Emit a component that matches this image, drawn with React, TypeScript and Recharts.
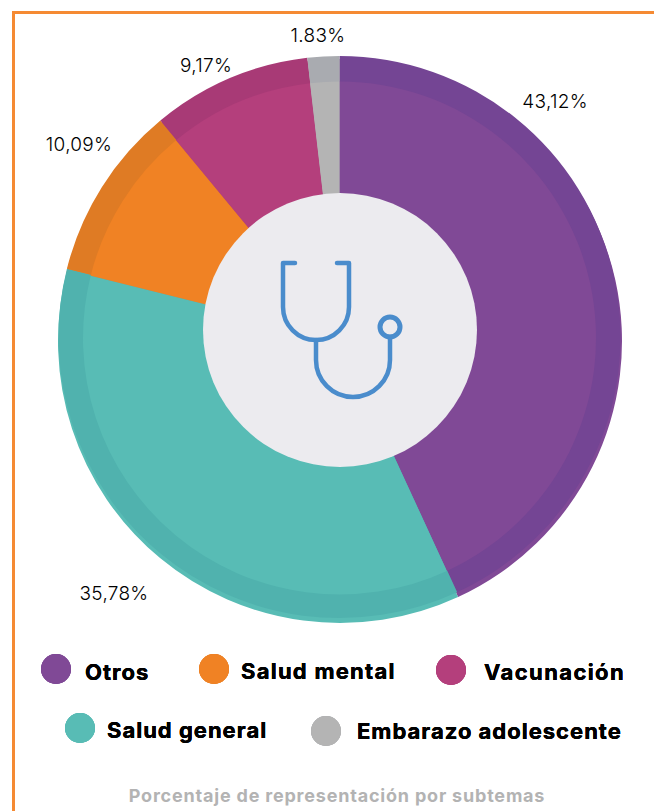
import { PieChart, Pie, Cell, Legend } from "recharts";

const CATEGORIES = ["Otros", "Salud general", "Salud mental", "Vacunación", "Embarazo adolescente"];
const VALUES = [43.12, 35.78, 10.09, 9.17, 1.83];
const VALUE_LABELS = ["43,12%", "35,78%", "10,09%", "9,17%", "1.83%"];
const INNER_COLORS = ["#804996", "#58bcb5", "#f08224", "#b43f7c", "#b4b4b4"];
const OUTER_COLORS = ["#744594", "#50b2ae", "#df7b24", "#a83a76", "#a9abb0"];

const data = CATEGORIES.map((name, i) => ({ name, value: VALUES[i] }));

// hand placed, the original labels do not follow the slice midpoints
const LABEL_POS = [
  { x: 555, y: 101 },
  { x: 114, y: 593 },
  { x: 79, y: 144 },
  { x: 206, y: 65 },
  { x: 318, y: 35 },
];

const LEGEND_POS: Record<string, { dotX: number; dotY: number; textX: number; textY: number; spacing: number }> = {
  Otros: { dotX: 56, dotY: 669, textX: 85, textY: 672, spacing: 1 },
  "Salud mental": { dotX: 214, dotY: 669, textX: 241, textY: 671, spacing: 1.25 },
  Vacunación: { dotX: 451, dotY: 670, textX: 484, textY: 672, spacing: 1.4 },
  "Salud general": { dotX: 80, dotY: 728, textX: 107, textY: 730, spacing: 1 },
  "Embarazo adolescente": { dotX: 326, dotY: 731, textX: 357, textY: 731, spacing: 1 },
};

const FONT = "Inter, sans-serif";

function renderLabel(props: any) {
  const pos = LABEL_POS[props.index];
  return (
    <text
      x={pos.x}
      y={pos.y}
      textAnchor="middle"
      dominantBaseline="central"
      fontFamily={FONT}
      fontSize={19}
      fontWeight={300}
      letterSpacing={0.3}
      fill="#000000"
    >
      {VALUE_LABELS[props.index]}
    </text>
  );
}

function LegendContent({ payload }: any) {
  return (
    <div style={{ position: "relative", width: 654, height: 811 }}>
      {(payload ?? []).map((entry: any) => {
        const pos = LEGEND_POS[entry.value];
        if (!pos) return null;
        return (
          <div key={entry.value}>
            <div
              style={{
                position: "absolute",
                left: pos.dotX - 15,
                top: pos.dotY - 15,
                width: 30,
                height: 30,
                borderRadius: "50%",
                background: entry.color,
              }}
            />
            <div
              style={{
                position: "absolute",
                left: pos.textX,
                top: pos.textY - 15,
                lineHeight: "30px",
                fontFamily: FONT,
                fontSize: 22,
                fontWeight: 700,
                letterSpacing: pos.spacing,
                color: "#000",
                whiteSpace: "nowrap",
              }}
            >
              {entry.value}
            </div>
          </div>
        );
      })}
    </div>
  );
}

export default function App() {
  return (
    <div style={{ position: "absolute", left: 0, top: 0, width: 654, height: 811, background: "#fff", overflow: "hidden" }}>
      <div
        style={{
          position: "absolute",
          left: 12,
          top: 11,
          width: 660,
          height: 820,
          borderTop: "3px solid #f58a33",
          borderLeft: "3px solid #f58a33",
        }}
      />
      <div style={{ position: "absolute", left: 0, top: 0 }}>
        <PieChart width={654} height={811} margin={{ top: 0, right: 0, bottom: 0, left: 0 }}>
          {/* three stacked discs, slightly off centre like the original */}
          <Pie
            data={data}
            dataKey="value"
            nameKey="name"
            cx={340}
            cy={341}
            innerRadius={120}
            outerRadius={282}
            startAngle={90}
            endAngle={-270}
            stroke="none"
            legendType="none"
            isAnimationActive={false}
          >
            {data.map((_, i) => (
              <Cell key={i} fill={INNER_COLORS[i]} />
            ))}
          </Pie>
          <Pie
            data={data}
            dataKey="value"
            nameKey="name"
            cx={339.5}
            cy={337}
            innerRadius={120}
            outerRadius={281}
            startAngle={90}
            endAngle={-270}
            stroke="none"
            legendType="none"
            isAnimationActive={false}
          >
            {data.map((_, i) => (
              <Cell key={i} fill={OUTER_COLORS[i]} />
            ))}
          </Pie>
          <Pie
            data={data}
            dataKey="value"
            nameKey="name"
            cx={339.5}
            cy={338}
            innerRadius={120}
            outerRadius={256.5}
            startAngle={90}
            endAngle={-270}
            stroke="none"
            label={renderLabel}
            labelLine={false}
            isAnimationActive={false}
          >
            {data.map((_, i) => (
              <Cell key={i} fill={INNER_COLORS[i]} />
            ))}
          </Pie>
          <Legend
            content={<LegendContent />}
            wrapperStyle={{ position: "absolute", left: 0, top: 0, width: 654, height: 811 }}
          />
        </PieChart>
      </div>
      {/* hub with the stethoscope */}
      <svg width={654} height={811} style={{ position: "absolute", left: 0, top: 0 }}>
        <circle cx={340} cy={330} r={137} fill="#ecebef" />
        <path d="M381 331 A10 10 0 0 0 399 331 A14 14 0 0 1 381 331 Z" fill="#b9cbe0" />
        <g fill="none" stroke="#4a8ccc" strokeWidth={4.5} strokeLinecap="round">
          <path d="M295 263 H283 V307 A33 33 0 0 0 349 307 V263 H337" strokeLinejoin="round" />
          <path d="M316 340 V360 A37 37 0 0 0 390 360 V338" />
          <circle cx={390} cy={327} r={10} strokeWidth={5} />
        </g>
        <text
          x={337}
          y={802}
          textAnchor="middle"
          fontFamily={FONT}
          fontSize={18}
          fontWeight={700}
          letterSpacing={0.8}
          fill="#b3b3b3"
        >
          Porcentaje de representación por subtemas
        </text>
      </svg>
    </div>
  );
}
